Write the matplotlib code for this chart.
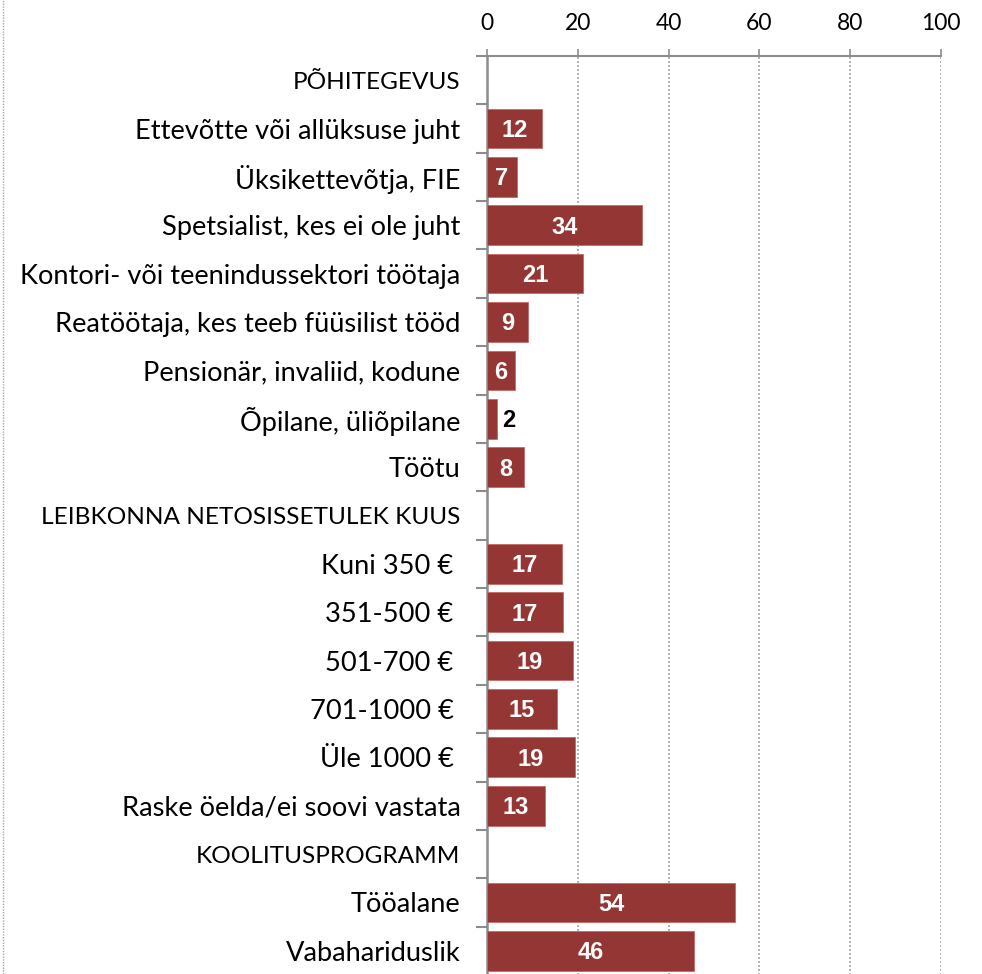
import matplotlib.pyplot as plt
import numpy as np
from matplotlib.lines import Line2D

# categories top to bottom; None value = section header row
categories = [
    "PÕHITEGEVUS",
    "Ettevõtte või allüksuse juht",
    "Üksikettevõtja, FIE",
    "Spetsialist, kes ei ole juht",
    "Kontori- või teenindussektori töötaja",
    "Reatöötaja, kes teeb füüsilist tööd",
    "Pensionär, invaliid, kodune",
    "Õpilane, üliõpilane",
    "Töötu",
    "LEIBKONNA NETOSISSETULEK KUUS",
    "Kuni 350 € ",
    "351-500 € ",
    "501-700 € ",
    "701-1000 € ",
    "Üle 1000 € ",
    "Raske öelda/ei soovi vastata",
    "KOOLITUSPROGRAMM",
    "Tööalane",
    "Vabahariduslik",
]
values = [None, 12.1, 6.6, 34.1, 21.1, 9.0, 6.2, 2.2, 8.1,
          None, 16.5, 16.7, 18.9, 15.4, 19.4, 12.8,
          None, 54.6, 45.6]
value_labels = [None, "12", "7", "34", "21", "9", "6", "2", "8",
                None, "17", "17", "19", "15", "19", "13",
                None, "54", "46"]
x_ticks = [0, 20, 40, 60, 80, 100]

BAR_RED = "#943634"
GRID_GREY = "#8c8c8c"

plt.rcParams["font.family"] = ["Lato", "DejaVu Sans"]

fig = plt.figure(figsize=(9.82, 9.74), dpi=100)
ax = fig.add_axes([487 / 982, -0.001, (941 - 487) / 982, (974 - 56) / 974 + 0.001])

n = len(categories)
ypos = np.arange(n)
for y, v, lab in zip(ypos, values, value_labels):
    if v is None:
        continue
    ax.barh(y, v, height=0.82, color=BAR_RED, edgecolor="#c46a68", linewidth=0.6, zorder=3)
    if v < 4:
        ax.text(v + 1.2, y + 0.04, lab, ha="left", va="center", color="black",
                fontsize=17, fontweight="bold", family="Liberation Sans", zorder=4)
    else:
        ax.text(v / 2, y + 0.04, lab, ha="center", va="center", color="white",
                fontsize=17, fontweight="bold", family="Liberation Sans", zorder=4)

ax.set_xlim(0, 100)
ax.set_ylim(n - 0.5, -0.5)
ax.xaxis.tick_top()
ax.set_xticks(x_ticks)
ax.set_xticklabels([str(t) for t in x_ticks], fontsize=16.5)
ax.tick_params(axis="x", length=5, width=1.2, color=GRID_GREY, pad=11)
ax.grid(axis="x", linestyle=(0, (1.2, 1.2)), color="#a6a6a6", linewidth=1.2, zorder=0)

ax.set_yticks(ypos)
ax.set_yticklabels(categories, fontsize=19.6)
# section headers are all caps; Lato caps run wider than the original font
for lbl, v in zip(ax.get_yticklabels(), values):
    if v is None:
        lbl.set_fontsize(17.6)
ax.tick_params(axis="y", length=0, pad=19)
ax.set_yticks(np.arange(-0.5, n - 0.5, 1.0), minor=True)
ax.tick_params(axis="y", which="minor", length=8, width=1.5, color=GRID_GREY)

for side in ["right", "bottom"]:
    ax.spines[side].set_visible(False)
ax.spines["top"].set_color(GRID_GREY)
ax.spines["top"].set_linewidth(1.5)
ax.spines["left"].set_color(GRID_GREY)
ax.spines["left"].set_linewidth(1.8)

# dotted chart-area border on the left edge
fig.add_artist(Line2D([3 / 982, 3 / 982], [0, 1], transform=fig.transFigure,
                      color="#a6a6a6", linestyle=(0, (1, 1)), linewidth=1))

fig.savefig("out.png", dpi=100)
